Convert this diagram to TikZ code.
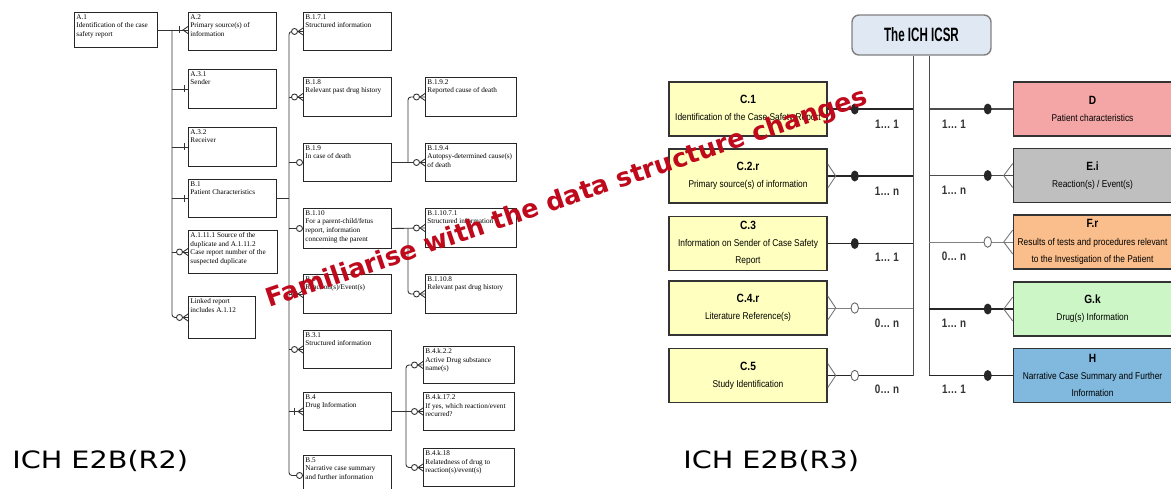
\documentclass[tikz,border=0pt]{standalone}
\usepackage{fontspec}
\setmainfont{Liberation Serif}
\newfontfamily\oldfont{Liberation Serif}
\newfontfamily\narrowfont[FakeStretch=0.85]{Liberation Sans}
\newfontfamily\cardfont[FakeStretch=0.8]{Liberation Sans}
\newfontfamily\headfont[FakeStretch=0.6]{Liberation Sans}
\newfontfamily\ichfont[FakeStretch=1.2]{DejaVu Sans}
\newfontfamily\bannerfont{DejaVu Sans}
\usepackage{xcolor}
\usepackage{tikz}
\usetikzlibrary{calc, shapes.geometric}

\definecolor{cyel}{RGB}{255,255,192}
\definecolor{dpink}{RGB}{244,166,166}
\definecolor{egrey}{RGB}{191,191,191}
\definecolor{forange}{RGB}{250,190,140}
\definecolor{ggreen}{RGB}{205,246,198}
\definecolor{hblue}{RGB}{128,184,222}
\definecolor{icsrblue}{RGB}{224,232,244}
\definecolor{bannerred}{RGB}{190,10,28}

\newlength{\px}\setlength{\px}{0.02cm}
\newcommand{\oldtxt}[3]{\parbox[c][#2\px][t]{#1\px}{\raggedright #3}}
\newcommand{\ctitle}[1]{{\fontsize{6.8}{9.8}\selectfont\bfseries #1}}

\tikzset{
  oldline/.style={draw=black!80, line width=0.5pt},
  oldbox/.style={draw=black!85, line width=0.55pt, inner sep=0.4mm, anchor=north west,
    font={\oldfont\fontsize{4.1}{4.9}\selectfont}},
  tickmark/.pic={\draw[oldline] (-4,-3.5) -- (-4,3.5);},
  tickcrow/.pic={\draw[oldline] (-9,-3.5) -- (-9,3.5);
    \draw[oldline] (0,-3.5) -- (-5,0) -- (0,3.5);},
  ringcrow/.pic={\draw[oldline] (0,-3.5) -- (-5,0) -- (0,3.5);
    \draw[oldline, fill=white] (-8.5,0) circle[radius=3];},
  ring/.pic={\draw[oldline, fill=white] (-3.5,0) circle[radius=3];},
  newbox/.style={draw=black!80, line width=0.9pt, minimum width=3.16cm, minimum height=1.08cm,
    inner sep=0pt, align=center, font={\narrowfont\fontsize{5.6}{9.8}\selectfont}},
  icsr/.style={draw=black!50, fill=icsrblue, line width=0.8pt, rounded corners=1.4mm,
    minimum width=2.78cm, minimum height=0.8cm, font={\headfont\bfseries\fontsize{11}{13}\selectfont}},
  trunkline/.style={draw=black!70, line width=0.5pt},
  boldline/.style={draw=black!85, line width=0.9pt},
  midline/.style={draw=black!70, line width=0.6pt},
  thinline/.style={draw=black!50, line width=0.5pt},
  crowline/.style={draw=black!55, line width=0.5pt},
  crowE/.pic={\draw[crowline] (0,-12) -- (8,0) -- (0,12);},
  crowW/.pic={\draw[crowline] (0,-12) -- (-9,0) -- (0,12);},
  dot/.style={ellipse, fill=black!85, minimum width=1.6mm, minimum height=2.2mm, inner sep=0pt},
  ringdot/.style={ellipse, draw=black!60, fill=white, line width=0.5pt,
    minimum width=1.5mm, minimum height=2.1mm, inner sep=0pt},
  card/.style={text=black!80, inner sep=0pt, font={\cardfont\bfseries\fontsize{7}{8}\selectfont}},
  ichlabel/.style={anchor=base west, inner sep=0pt, text=black,
    font={\ichfont\fontsize{13.6}{15}\selectfont}},
  banner/.style={inner sep=0pt, text=bannerred, font={\bannerfont\bfseries\fontsize{14.6}{16}\selectfont}}
}

\begin{document}
\begin{tikzpicture}[x=0.02cm, y=-0.02cm]
  \path[use as bounding box, fill=white] (0,0) rectangle (1171,488);
%----------------------------------------------------------------------- E2B(R2), first column
  \node[oldbox] (a1) at (74,12) {\oldtxt{79}{31}{A.1\\Identification of the case\\safety report}};
  \node[oldbox] (a2) at (188,12) {\oldtxt{84}{34}{A.2\\Primary source(s) of\\information}};
  \node[oldbox] (a31) at (188,69) {\oldtxt{84}{35}{A.3.1\\Sender}};
  \node[oldbox] (a32) at (188,127) {\oldtxt{84}{35}{A.3.2\\Receiver}};
  \node[oldbox] (b1) at (188,179) {\oldtxt{84}{34}{B.1\\Patient Characteristics}};
  \node[oldbox] (a111) at (188,230) {\oldtxt{85}{39}{A.1.11.1 Source of the\\duplicate and A.1.11.2\\Case report number of the\\suspected duplicate}};
  \node[oldbox] (lk) at (188,296) {\oldtxt{63}{38}{Linked report\\includes A.1.12}};
%----------------------------------------------------------------------- second column
  \node[oldbox] (b171) at (303,12) {\oldtxt{84}{34}{B.1.7.1\\Structured information}};
  \node[oldbox] (b18) at (303,77) {\oldtxt{84}{35}{B.1.8\\Relevant past drug history}};
  \node[oldbox] (b19) at (303,143) {\oldtxt{84}{34}{B.1.9\\In case of death}};
  \node[oldbox] (b110) at (303,208) {\oldtxt{84}{36}{B.1.10\\For a parent-child/fetus\\report, information\\concerning the parent}};
  \node[oldbox] (b2) at (303,274) {\oldtxt{84}{35}{B.2\\Reaction(s)/Event(s)}};
  \node[oldbox] (b31) at (303,330) {\oldtxt{84}{34}{B.3.1\\Structured information}};
  \node[oldbox] (b4) at (303,392) {\oldtxt{84}{34}{B.4\\Drug Information}};
  \node[oldbox] (b5) at (303,455) {\oldtxt{84}{36}{B.5\\Narrative case summary\\and further information}};
%----------------------------------------------------------------------- third column
  \node[oldbox] (b192) at (425,77) {\oldtxt{87}{35}{B.1.9.2\\Reported cause of death}};
  \node[oldbox] (b194) at (425,143) {\oldtxt{87}{34}{B.1.9.4\\Autopsy-determined cause(s)\\of death}};
  \node[oldbox] (b11071) at (425,208) {\oldtxt{87}{35}{B.1.10.7.1\\Structured information}};
  \node[oldbox] (b1108) at (425,274) {\oldtxt{87}{35}{B.1.10.8\\Relevant past drug history}};
  \node[oldbox] (b4k22) at (423,346) {\oldtxt{87}{33}{B.4.k.2.2\\Active Drug substance\\name(s)}};
  \node[oldbox] (b4k172) at (423,392) {\oldtxt{87}{34}{B.4.k.17.2\\If yes, which reaction/event\\recurred?}};
  \node[oldbox] (b4k18) at (423,448) {\oldtxt{87}{34}{B.4.k.18\\Relatedness of drug to\\reaction(s)/event(s)}};
%----------------------------------------------------------------------- R2 connectors
  \coordinate (t1) at (172,0);
  \coordinate (t2) at (289,0);
  \coordinate (t3) at (408,0);
  \coordinate (t4) at (406,0);
  \draw[oldline] (a1.east) -- (a1.east -| a2.west);
  \draw[oldline, rounded corners=0.6mm] (a1.east -| t1) -- (lk.west -| t1) -- (lk.west);
  \draw[oldline] (a31.west -| t1) -- (a31.west);
  \draw[oldline] (a32.west -| t1) -- (a32.west);
  \draw[oldline] (b1.west -| t1) -- (b1.west);
  \draw[oldline] (a111.west -| t1) -- (a111.west);
  \draw[oldline] (b1.east) -- (b1.east -| t2);
  \draw[oldline, rounded corners=0.6mm] (b171.west) -- (b171.west -| t2) -- (b5.west -| t2) -- (b5.west);
  \draw[oldline] (b18.west -| t2) -- (b18.west);
  \draw[oldline] (b19.west -| t2) -- (b19.west);
  \draw[oldline] (b110.west -| t2) -- (b110.west);
  \draw[oldline] (b2.west -| t2) -- (b2.west);
  \draw[oldline] (b31.west -| t2) -- (b31.west);
  \draw[oldline] (b4.west -| t2) -- (b4.west);
  \draw[oldline] (b19.east) -- (b194.west);
  \draw[oldline, rounded corners=0.6mm] (b192.west) -- (b192.west -| t3) -- (b19.east -| t3);
  \draw[oldline] (b110.east) -- (b11071.west);
  \draw[oldline, rounded corners=0.6mm] (b110.east -| t3) -- (b1108.west -| t3) -- (b1108.west);
  \draw[oldline] (b4.east) -- (b4k172.west);
  \draw[oldline, rounded corners=0.6mm] (b4k22.west) -- (b4k22.west -| t4) -- (b4k18.west -| t4) -- (b4k18.west);
%----------------------------------------------------------------------- R2 end marks
  \pic at (a1.east -| a2.west) {tickcrow};
  \pic at (a31.west) {tickmark};
  \pic at (a32.west) {tickmark};
  \pic at (b1.west) {tickmark};
  \pic at (a111.west) {ringcrow};
  \pic at (lk.west) {ringcrow};
  \pic at (b171.west) {ringcrow};
  \pic at (b18.west) {ringcrow};
  \pic at (b19.west) {ring};
  \pic at (b110.west) {ring};
  \pic at (b2.west) {ringcrow};
  \pic at (b31.west) {ringcrow};
  \pic at (b4.west) {tickcrow};
  \pic at (b5.west) {ring};
  \pic at (b192.west) {ringcrow};
  \pic at (b194.west) {ringcrow};
  \pic at (b11071.west) {ringcrow};
  \pic at (b1108.west) {ringcrow};
  \pic at (b4k22.west) {ringcrow};
  \pic at (b4k172.west) {ringcrow};
  \pic at (b4k18.west) {ringcrow};
%----------------------------------------------------------------------- E2B(R3)
  \node[icsr] (icsr) at (921.5,35) {The ICH ICSR};
  \node[newbox, fill=cyel] (c1) at (748,109) {\ctitle{C.1}\\Identification of the Case Safety Report};
  \node[newbox, fill=cyel] (c2) at (748,176) {\ctitle{C.2.r}\\Primary source(s) of information};
  \node[newbox, fill=cyel] (c3) at (748,243.5) {\ctitle{C.3}\\Information on Sender of Case Safety\\Report};
  \node[newbox, fill=cyel] (c4) at (748,308) {\ctitle{C.4.r}\\Literature Reference(s)};
  \node[newbox, fill=cyel] (c5) at (748,375.5) {\ctitle{C.5}\\Study Identification};
  \node[newbox, fill=dpink] (d) at (1092.5,109) {\ctitle{D}\\Patient characteristics};
  \node[newbox, fill=egrey] (e) at (1092.5,175.5) {\ctitle{E.i}\\Reaction(s) / Event(s)};
  \node[newbox, fill=forange] (f) at (1092.5,242) {\ctitle{F.r}\\Results of tests and procedures relevant\\to the Investigation of the Patient};
  \node[newbox, fill=ggreen] (g) at (1092.5,309) {\ctitle{G.k}\\Drug(s) Information};
  \node[newbox, fill=hblue] (h) at (1092.5,375.5) {\ctitle{H}\\Narrative Case Summary and Further\\Information};
  \coordinate (lt) at (913,0);
  \coordinate (rt) at (929,0);
  \draw[trunkline] (icsr.south -| lt) -- (c5.east -| lt);
  \draw[trunkline] (icsr.south -| rt) -- (h.west -| rt);
  \draw[boldline] (c1.east) -- (c1.east -| lt);
  \draw[boldline] (c2.east) -- (c2.east -| lt);
  \draw[boldline] (c3.east) -- (c3.east -| lt);
  \draw[thinline] (c4.east) -- (c4.east -| lt);
  \draw[boldline] (c5.east) -- (c5.east -| lt);
  \draw[midline] (d.west) -- (d.west -| rt);
  \draw[midline] (e.west) -- (e.west -| rt);
  \draw[thinline] (f.west) -- (f.west -| rt);
  \draw[boldline] (g.west) -- (g.west -| rt);
  \draw[boldline] (h.west) -- (h.west -| rt);
  \pic at (c2.east) {crowE};
  \pic at (c4.east) {crowE};
  \pic at (c5.east) {crowE};
  \pic at (e.west) {crowW};
  \pic at (f.west) {crowW};
  \pic at (g.west) {crowW};
  \node[dot] (dc1) at ($(c1.east)+(27,0)$) {};
  \node[dot] (dc2) at ($(c2.east)+(27,0)$) {};
  \node[dot] (dc3) at ($(c3.east)+(27,0)$) {};
  \node[ringdot] (dc4) at ($(c4.east)+(27,0)$) {};
  \node[ringdot] (dc5) at ($(c5.east)+(27,0)$) {};
  \node[dot] (dd) at ($(d.west)+(-25,0)$) {};
  \node[dot] (de) at ($(e.west)+(-25,0)$) {};
  \node[ringdot] (df) at ($(f.west)+(-25,0)$) {};
  \node[dot] (dg) at ($(g.west)+(-25,0)$) {};
  \node[dot] (dh) at ($(h.west)+(-25,0)$) {};
  \node[card] (m1) at (887,124) {1… 1};
  \node[card] (m2) at (887,191) {1… n};
  \node[card] (m3) at (887,257) {1… 1};
  \node[card] (m4) at (887,323) {0… n};
  \node[card] (m5) at (887,389) {0… n};
  \node[card] (n1) at (954,124) {1… 1};
  \node[card] (n2) at (954,190) {1… n};
  \node[card] (n3) at (954,256) {0… n};
  \node[card] (n4) at (954,323) {1… n};
  \node[card] (n5) at (954,389) {1… 1};
%----------------------------------------------------------------------- captions
  \node[ichlabel] (r2) at (12,468) {ICH E2B(R2)};
  \node[ichlabel] (r3) at (683,468) {ICH E2B(R3)};
  \node[banner, rotate=18.8] (msg) at (567,199) {Familiarise with the data structure changes};
\end{tikzpicture}
\end{document}
